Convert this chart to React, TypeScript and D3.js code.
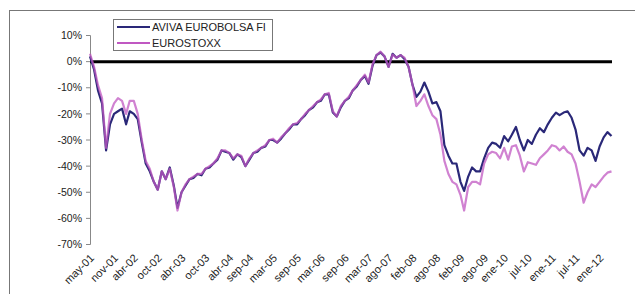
import React from 'react'
import * as d3 from 'd3'

// monthly closes, May 2001 .. Apr 2012, % change from start
const startMonth = new Date(2001, 4, 1)

const eurostoxx = [
  3, -2, -9, -14, -33, -20, -16, -14, -15, -20, -15, -15,
  -20, -30, -38, -41, -46, -49, -42, -45, -41, -48, -57, -50,
  -47, -45, -44, -43, -43, -41, -40, -39, -37, -34, -34, -35,
  -37, -35.5, -36, -40, -37, -35, -34, -33, -32, -30, -29.5, -31,
  -29, -27.5, -25.5, -24, -23.5, -22, -20, -18.5, -17, -15.5, -14.5, -12.5,
  -12, -19, -21, -17, -15, -13.5, -11, -9, -7, -5, -8, -1,
  2.5, 3.8, 2, -2, 2.7, 1.5, 2.5, 1.5, -2, -9, -17, -15,
  -12.5, -17, -20.5, -22, -28, -38, -43, -46, -47, -51, -57, -48,
  -46, -46, -47, -39, -35.5, -34.5, -35, -37, -33, -37.5, -32.5, -32,
  -36, -42, -38.5, -39, -39.5, -37, -35.5, -34, -32, -32.5, -34, -32.5,
  -34.5, -35.5, -39, -46, -54, -50, -47, -48, -46, -44, -42.5, -42,
]

const aviva = [
  2, -3, -11, -16, -34, -24, -20, -19, -18, -24, -19, -20,
  -22, -31, -39, -42, -46, -49, -42, -45, -40.5, -47.5, -56, -50,
  -47.5, -45, -44.5, -43, -43.5, -41, -40.5, -39, -37.5, -34, -34.5, -35,
  -37.5, -35.5, -36.5, -40, -37.5, -35, -34.5, -33, -32.5, -30, -30, -31,
  -29.5, -27.5, -26, -24, -24, -22, -20.5, -18.5, -17.5, -15.5, -15, -12.5,
  -12.5, -19.5, -21, -17.5, -15, -14, -11, -9.5, -7, -5.5, -8.5, -1.5,
  2.5, 3.5, 2, -2, 3, 1.5, 2.5, 1, -2, -9, -13.5, -11.5,
  -8, -11.5, -16, -15.5, -19, -32, -36, -39, -39, -46, -49.5, -44,
  -40.5, -42, -42, -37, -33, -31, -31.5, -33, -28.5, -30.5, -28, -25,
  -30, -34, -30, -31.5, -28, -25.5, -27, -24, -21.5, -19.5, -20.5, -19.5,
  -19, -21.5, -26, -34, -36, -33, -34, -38, -32.5, -29, -27, -28.5,
]

const xLabels = [
  'may-01', 'nov-01', 'abr-02', 'oct-02', 'abr-03', 'oct-03', 'abr-04', 'sep-04',
  'mar-05', 'sep-05', 'mar-06', 'sep-06', 'mar-07', 'ago-07', 'feb-08', 'ago-08',
  'feb-09', 'ago-09', 'ene-10', 'jul-10', 'ene-11', 'jul-11', 'ene-12',
]
const yTicks = [10, 0, -10, -20, -30, -40, -50, -60, -70]

const series = [
  { name: 'AVIVA EUROBOLSA FI', values: aviva, color: '#2a2878', opacity: 1 },
  { name: 'EUROSTOXX', values: eurostoxx, color: '#c058c2', opacity: 0.75 },
]

const mesES = ['ene', 'feb', 'mar', 'abr', 'may', 'jun', 'jul', 'ago', 'sep', 'oct', 'nov', 'dic']
const labelDate = (s: string) => {
  const [m, y] = s.split('-')
  return new Date(2000 + +y, mesES.indexOf(m), 1)
}

const W = 635
const H = 294

export default function App() {
  const last = d3.timeMonth.offset(startMonth, eurostoxx.length - 1)
  const x = d3.scaleTime().domain([startMonth, last]).range([90, 611.5])
  const y = d3.scaleLinear().domain([-70, 10]).range([244.5, 35.5])

  const line = d3
    .line<number>()
    .x((d, i) => x(d3.timeMonth.offset(startMonth, i)))
    .y(d => y(d))

  const font = "'Liberation Sans', Arial, sans-serif"

  return (
    <svg
      width={W}
      height={H}
      style={{ position: 'absolute', left: 0, top: 0, background: '#fff' }}
      fontFamily={font}
    >
      <rect x={9.5} y={10.5} width={700} height={400} fill="none" stroke="#777" />

      {/* y axis */}
      <line x1={90.5} x2={90.5} y1={y(10)} y2={y(-70)} stroke="#888" />
      {yTicks.map(t => (
        <g key={t}>
          <line x1={86} x2={90.5} y1={y(t)} y2={y(t)} stroke="#888" />
          <text x={82} y={y(t)} dy="0.35em" textAnchor="end" fontSize={10.5} fill="#222">
            {t + '%'}
          </text>
        </g>
      ))}

      {/* x labels */}
      {xLabels.map(l => (
        <text
          key={l}
          transform={`translate(${x(labelDate(l)) + 2},256)rotate(-45)`}
          textAnchor="end"
          dy="0.35em"
          fontSize={11}
          fill="#222"
        >
          {l}
        </text>
      ))}

      {/* zero line */}
      <line x1={90} x2={612} y1={y(0)} y2={y(0)} stroke="#000" strokeWidth={3} />

      {series.map(s => (
        <path
          key={s.name}
          d={line(s.values) || ''}
          fill="none"
          stroke={s.color}
          strokeWidth={2.2}
          strokeOpacity={s.opacity}
          strokeLinejoin="round"
        />
      ))}

      {/* legend */}
      <rect x={113.5} y={19.5} width={159} height={31} fill="#fff" stroke="#777" />
      {series.map((s, i) => (
        <g key={s.name} transform={`translate(0,${27 + i * 16})`}>
          <line x1={117} x2={150} stroke={s.color} strokeWidth={2} />
          <text x={152} dy="0.36em" fontSize={11} fill="#222">
            {s.name}
          </text>
        </g>
      ))}
    </svg>
  )
}
